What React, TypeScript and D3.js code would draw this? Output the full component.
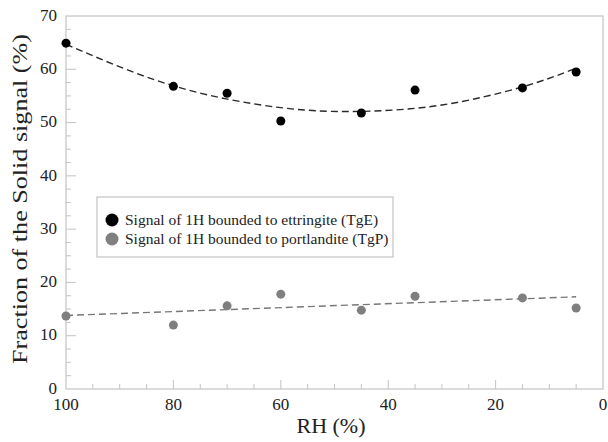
import { useEffect, useRef } from "react";
import * as d3 from "d3";

// RH values (%) where both signals were measured
const rh = [100, 80, 70, 60, 45, 35, 15, 5];
// Signal of 1H bounded to ettringite (TgE)
const tgE = [64.9, 56.8, 55.5, 50.3, 51.8, 56.1, 56.5, 59.5];
// Signal of 1H bounded to portlandite (TgP)
const tgP = [13.7, 12.0, 15.6, 17.8, 14.8, 17.4, 17.1, 15.2];

// dashed trend lines
const fitE_x = [100, 80, 60, 45, 30, 15, 5];
const fitE_y = [64.7, 56.9, 52.8, 52.1, 53.3, 56.7, 60.2];
const fitP_x = [100, 5];
const fitP_y = [13.8, 17.3];

const xTicks = [100, 80, 60, 40, 20, 0];
const yTicks = [0, 10, 20, 30, 40, 50, 60, 70];

const legendLabels = [
  "Signal of 1H bounded to ettringite (TgE)",
  "Signal of 1H bounded to portlandite (TgP)",
];

const App = () => {
  const svgRef = useRef(null);

  useEffect(() => {
    const svg = d3.select(svgRef.current);
    svg.selectAll("*").remove();

    const W = 608;
    const H = 442;
    const margin = { top: 16, right: 5, bottom: 53, left: 66 };
    const width = W - margin.left - margin.right;
    const height = H - margin.top - margin.bottom;
    const font = "Liberation Serif, Times New Roman, Times, serif";
    const axisColor = "#c4c4c4";
    const textColor = "#222";

    svg.attr("width", W).attr("height", H);

    const g = svg
      .append("g")
      .attr("transform", `translate(${margin.left},${margin.top})`);

    const x = d3.scaleLinear().domain([100, 0]).range([0, width]);
    const y = d3.scaleLinear().domain([0, 70]).range([height, 0]);

    // frame
    g.append("rect")
      .attr("x", 0)
      .attr("y", 0)
      .attr("width", width)
      .attr("height", height)
      .attr("fill", "none")
      .attr("stroke", axisColor)
      .attr("stroke-width", 1.2);

    // x ticks (inward)
    g.selectAll(".xminor")
      .data(d3.range(95, 0, -5))
      .enter()
      .append("line")
      .attr("x1", (d) => x(d))
      .attr("x2", (d) => x(d))
      .attr("y1", height)
      .attr("y2", (d) => (d % 20 === 0 ? height - 9 : height - 5))
      .attr("stroke", axisColor);

    // y ticks (inward)
    g.selectAll(".yminor")
      .data(d3.range(2.5, 70, 2.5))
      .enter()
      .append("line")
      .attr("x1", 0)
      .attr("x2", (d) => (d % 10 === 0 ? 10 : 5))
      .attr("y1", (d) => y(d))
      .attr("y2", (d) => y(d))
      .attr("stroke", axisColor);

    g.selectAll(".xlab")
      .data(xTicks)
      .enter()
      .append("text")
      .attr("x", (d) => x(d))
      .attr("y", height + 21)
      .attr("text-anchor", "middle")
      .style("font-family", font)
      .style("font-size", "17px")
      .attr("fill", textColor)
      .text((d) => d);

    g.selectAll(".ylab")
      .data(yTicks)
      .enter()
      .append("text")
      .attr("x", -9)
      .attr("y", (d) => y(d) - 1)
      .attr("dy", "0.34em")
      .attr("text-anchor", "end")
      .style("font-family", font)
      .style("font-size", "17px")
      .attr("fill", textColor)
      .text((d) => d);

    // axis titles
    svg
      .append("text")
      .attr("x", 331)
      .attr("y", 433)
      .attr("text-anchor", "middle")
      .style("font-family", font)
      .style("font-size", "22px")
      .attr("fill", textColor)
      .text("RH (%)");

    svg
      .append("text")
      .attr("transform", "translate(27,199) rotate(-90)")
      .attr("text-anchor", "middle")
      .style("font-family", font)
      .style("font-size", "22px")
      .attr("textLength", 330)
      .attr("lengthAdjust", "spacingAndGlyphs")
      .attr("fill", textColor)
      .text("Fraction of the Solid signal (%)");

    // trend lines
    const line = d3
      .line()
      .x((d) => x(d[0]))
      .y((d) => y(d[1]))
      .curve(d3.curveNatural);

    g.append("path")
      .datum(d3.zip(fitE_x, fitE_y))
      .attr("d", line)
      .attr("fill", "none")
      .attr("stroke", "#2a2a2a")
      .attr("stroke-width", 1.4)
      .attr("stroke-dasharray", "7,4");

    g.append("path")
      .datum(d3.zip(fitP_x, fitP_y))
      .attr("d", line)
      .attr("fill", "none")
      .attr("stroke", "#777")
      .attr("stroke-width", 1.4)
      .attr("stroke-dasharray", "7,4");

    // points
    g.selectAll(".pE")
      .data(d3.zip(rh, tgE))
      .enter()
      .append("circle")
      .attr("cx", (d) => x(d[0]))
      .attr("cy", (d) => y(d[1]))
      .attr("r", 4.5)
      .attr("fill", "#000");

    g.selectAll(".pP")
      .data(d3.zip(rh, tgP))
      .enter()
      .append("circle")
      .attr("cx", (d) => x(d[0]))
      .attr("cy", (d) => y(d[1]))
      .attr("r", 4.5)
      .attr("fill", "#7f7f7f");

    // legend
    const legend = svg.append("g").attr("transform", "translate(97,197)");
    legend
      .append("rect")
      .attr("width", 296)
      .attr("height", 60)
      .attr("fill", "#fff")
      .attr("stroke", axisColor)
      .attr("stroke-width", 1.2);

    const items = legend
      .selectAll(".item")
      .data(legendLabels)
      .enter()
      .append("g")
      .attr("transform", (d, i) => `translate(0,${23 + i * 19})`);

    items
      .append("circle")
      .attr("cx", 15)
      .attr("cy", 0)
      .attr("r", 6.5)
      .attr("fill", (d, i) => (i === 0 ? "#000" : "#7f7f7f"));

    items
      .append("text")
      .attr("x", 28)
      .attr("y", 0)
      .attr("dy", "0.33em")
      .style("font-family", font)
      .style("font-size", "15.5px")
      .attr("fill", textColor)
      .text((d) => d);
  }, []);

  return (
    <svg
      ref={svgRef}
      style={{ position: "absolute", left: 0, top: 0, background: "#fff" }}
    ></svg>
  );
};

export default App;
